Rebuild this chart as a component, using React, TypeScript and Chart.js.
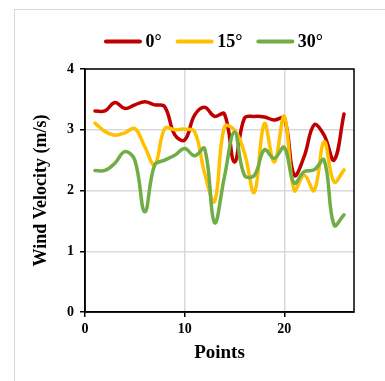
import React, { useEffect, useRef } from "react";
import { Chart, registerables } from "chart.js";

Chart.register(...registerables);

const points = [1, 2, 3, 4, 5, 6, 7, 8, 9, 10, 11, 12, 13, 14, 15, 16, 17, 18, 19, 20, 21, 22, 23, 24, 25, 26];
const v0 = [3.31, 3.31, 3.45, 3.35, 3.41, 3.46, 3.41, 3.38, 2.92, 2.83, 3.24, 3.37, 3.22, 3.26, 2.47, 3.19, 3.22, 3.21, 3.16, 3.19, 2.25, 2.56, 3.08, 2.91, 2.5, 3.26];
const v15 = [3.11, 2.97, 2.91, 2.95, 3.02, 2.72, 2.42, 3.02, 3.0, 3.01, 2.97, 2.29, 1.82, 3.05, 3.0, 2.62, 1.97, 3.1, 2.47, 3.22, 2.0, 2.25, 2.0, 2.8, 2.14, 2.34];
const v30 = [2.33, 2.33, 2.45, 2.64, 2.5, 1.65, 2.42, 2.5, 2.58, 2.69, 2.57, 2.69, 1.47, 2.23, 2.96, 2.25, 2.25, 2.67, 2.53, 2.71, 2.12, 2.31, 2.34, 2.5, 1.43, 1.6];
const seriesNames = ["0°", "15°", "30°"];
const seriesColors = ["#c00000", "#ffc000", "#70ad47"];
const xTicks = [0, 10, 20];
const yTicks = [0, 1, 2, 3, 4];

const FONT = "'Liberation Serif', 'Times New Roman', serif";

const borderPlugin = {
  id: "areaBorder",
  afterDatasetsDraw(chart: any) {
    const { ctx, chartArea } = chart;
    ctx.save();
    ctx.strokeStyle = "#000";
    ctx.lineWidth = 1.5;
    ctx.strokeRect(chartArea.left, chartArea.top, chartArea.right - chartArea.left, chartArea.bottom - chartArea.top);
    ctx.restore();
  },
};

const legendPlugin = {
  id: "customLegend",
  afterDraw(chart: any) {
    const { ctx } = chart;
    const lineLen = 38;
    const gapText = 3.5;
    const gapItem = 14;
    const y = 41.5;
    ctx.save();
    ctx.font = `bold 18px ${FONT}`;
    const ds = chart.data.datasets;
    const widths = ds.map((d: any) => ctx.measureText(d.label).width);
    const total = widths.reduce((a: number, w: number) => a + lineLen + gapText + w, 0) + gapItem * (ds.length - 1);
    let x = 213.5 - total / 2;
    ds.forEach((d: any, i: number) => {
      ctx.strokeStyle = d.borderColor;
      ctx.lineWidth = 4;
      ctx.lineCap = "round";
      ctx.beginPath();
      ctx.moveTo(x + 2, y);
      ctx.lineTo(x + lineLen - 2, y);
      ctx.stroke();
      x += lineLen + gapText;
      ctx.fillStyle = "#000";
      ctx.textBaseline = "middle";
      ctx.textAlign = "left";
      ctx.fillText(d.label, x, y + 1);
      x += widths[i] + gapItem;
    });
    ctx.restore();
  },
};

export default function App() {
  const ref = useRef<HTMLCanvasElement | null>(null);
  useEffect(() => {
    if (!ref.current) return;
    const all = [v0, v15, v30];
    const chart = new Chart(ref.current, {
      type: "line",
      data: {
        datasets: all.map((vals, i) => ({
          label: seriesNames[i],
          data: points.map((p, j) => ({ x: p, y: vals[j] })),
          borderColor: seriesColors[i],
          backgroundColor: seriesColors[i],
          borderWidth: 3.5,
          borderCapStyle: "round",
          borderJoinStyle: "round",
          pointRadius: 0,
          tension: 0.4,
          fill: false,
          order: 2 - i,
        })),
      },
      options: {
        animation: false,
        responsive: false,
        maintainAspectRatio: false,
        layout: { padding: { top: 69, left: 20, right: 31, bottom: 8 } },
        plugins: {
          tooltip: { enabled: false },
          legend: { display: false },
        },
        scales: {
          x: {
            type: "linear",
            min: 0,
            max: 27,
            afterBuildTicks: (s: any) => {
              s.ticks = xTicks.map((v) => ({ value: v }));
            },
            afterFit: (s: any) => {
              s.height = 61;
            },
            grid: { color: "#d9d9d9", lineWidth: 1.5, tickColor: "#000", tickLength: 5, drawTicks: true },
            border: { color: "#000", width: 1.5 },
            ticks: { color: "#000", padding: 4, maxRotation: 0, font: { family: FONT, size: 14, weight: "bold" } },
            title: { display: true, text: "Points", color: "#000", padding: { top: 4, bottom: 9 }, font: { family: FONT, size: 19, weight: "bold" } },
          },
          y: {
            type: "linear",
            min: 0,
            max: 4,
            afterBuildTicks: (s: any) => {
              s.ticks = yTicks.map((v) => ({ value: v }));
            },
            afterFit: (s: any) => {
              s.width = 65;
            },
            grid: { color: "#d9d9d9", lineWidth: 1.5, tickColor: "#000", tickLength: 5, drawTicks: true },
            border: { color: "#000", width: 1.5 },
            ticks: { color: "#000", padding: 6, font: { family: FONT, size: 14, weight: "bold" } },
            title: { display: true, text: "Wind Velocity (m/s)", color: "#000", padding: { top: 11, bottom: 4 }, font: { family: FONT, size: 18, weight: "bold" } },
          },
        },
      },
      plugins: [borderPlugin, legendPlugin],
    });
    return () => chart.destroy();
  }, []);

  return (
    <div style={{ position: "fixed", left: 0, top: 0, width: 385, height: 381, background: "#fff", overflow: "hidden" }}>
      <div style={{ position: "absolute", left: 14, top: 9, width: 400, height: 400, borderLeft: "1.5px solid #d9d9d9", borderTop: "1.5px solid #d9d9d9" }} />
      <canvas ref={ref} width={385} height={381} style={{ position: "absolute", left: 0, top: 0, width: 385, height: 381 }} />
    </div>
  );
}
